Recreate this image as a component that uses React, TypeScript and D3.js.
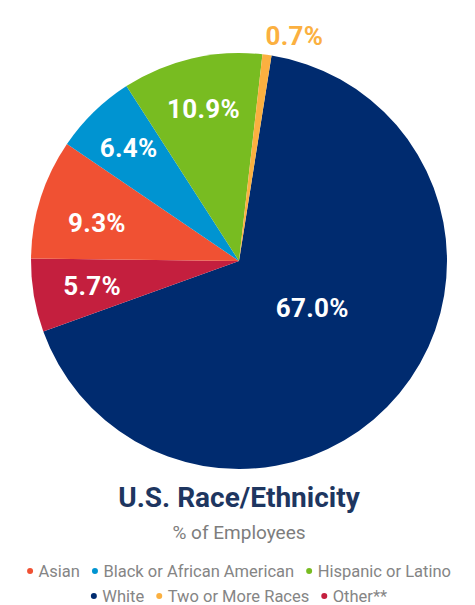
import React, { useEffect, useRef } from "react";
import * as d3 from "d3";

const categories = ["White", "Other**", "Asian", "Black or African American", "Hispanic or Latino", "Two or More Races"];
const values = [67.0, 5.7, 9.3, 6.4, 10.9, 0.7];
const colors = ["#002b6f", "#c41f3e", "#f05133", "#0094d1", "#78bc21", "#fbb040"];
const legendRows = [
  ["Asian", "Black or African American", "Hispanic or Latino"],
  ["White", "Two or More Races", "Other**"],
];
const title = "U.S. Race/Ethnicity";
const subtitle = "% of Employees";

// label placement styling (radius from centre, angular shift in degrees)
const labelRadius = [87, 149, 147, 158, 156, 226];
const labelShift = [-7, 0, -2.5, 0, 0, 0];

const W = 475;
const H = 605;
const FONT = "Roboto, 'DejaVu Sans', sans-serif";

export default function App() {
  const ref = useRef<SVGSVGElement | null>(null);

  useEffect(() => {
    const svg = d3.select(ref.current);
    svg.selectAll("*").remove();

    const cx = 239;
    const cy = 261;
    const r = 208;
    const startDeg = 9;

    const pie = d3
      .pie<number>()
      .sort(null)
      .value((d) => d)
      .startAngle((startDeg * Math.PI) / 180)
      .endAngle(((startDeg + 360) * Math.PI) / 180);
    const arcs = pie(values);
    const arc = d3.arc<d3.PieArcDatum<number>>().innerRadius(0).outerRadius(r);

    const g = svg.append("g").attr("transform", `translate(${cx},${cy})`);
    g.selectAll("path.slice")
      .data(arcs)
      .enter()
      .append("path")
      .attr("class", "slice")
      .attr("d", arc)
      .attr("fill", (_, i) => colors[i]);

    arcs.forEach((a, i) => {
      const txt = values[i].toFixed(1) + "%";
      const mid = (a.startAngle + a.endAngle) / 2 + (labelShift[i] * Math.PI) / 180;
      const rr = labelRadius[i];
      const outside = i === 5;
      g.append("text")
        .attr("x", Math.sin(mid) * rr + (outside ? -4 : 0))
        .attr("y", -Math.cos(mid) * rr + (outside ? -1 : 0))
        .attr("dy", "0.35em")
        .attr("text-anchor", outside ? "start" : "middle")
        .attr("font-family", FONT)
        .attr("font-weight", 700)
        .attr("font-size", 26)
        .attr("letter-spacing", 0.3)
        .attr("fill", outside ? colors[i] : "#ffffff")
        .text(txt);
    });

    svg.append("text")
      .attr("x", cx)
      .attr("y", 507)
      .attr("text-anchor", "middle")
      .attr("font-family", FONT)
      .attr("font-weight", 700)
      .attr("font-size", 28)
      .attr("fill", "#1e3660")
      .text(title);

    svg.append("text")
      .attr("x", cx)
      .attr("y", 539)
      .attr("text-anchor", "middle")
      .attr("font-family", FONT)
      .attr("font-size", 19)
      .attr("fill", "#7d7d7d")
      .text(subtitle);

    const rowY = [571, 596];
    legendRows.forEach((row, ri) => {
      const rg = svg.append("g");
      let x = 0;
      row.forEach((name, k) => {
        const ci = categories.indexOf(name);
        rg.append("circle")
          .attr("cx", x + 3)
          .attr("cy", rowY[ri])
          .attr("r", 3)
          .attr("fill", colors[ci]);
        const t = rg
          .append("text")
          .attr("x", x + 11.5)
          .attr("y", rowY[ri])
          .attr("dy", "0.35em")
          .attr("font-family", FONT)
          .attr("font-size", 16.5)
          .attr("fill", "#858585")
          .text(name);
        const w = (t.node() as SVGTextElement).getComputedTextLength();
        x = x + 11.5 + w + (k < row.length - 1 ? 12 : 0);
      });
      rg.attr("transform", `translate(${cx - x / 2},0)`);
    });
  }, []);

  return (
    <svg
      ref={ref}
      width={W}
      height={H}
      style={{ position: "absolute", left: 0, top: 0, background: "#fff" }}
    />
  );
}
